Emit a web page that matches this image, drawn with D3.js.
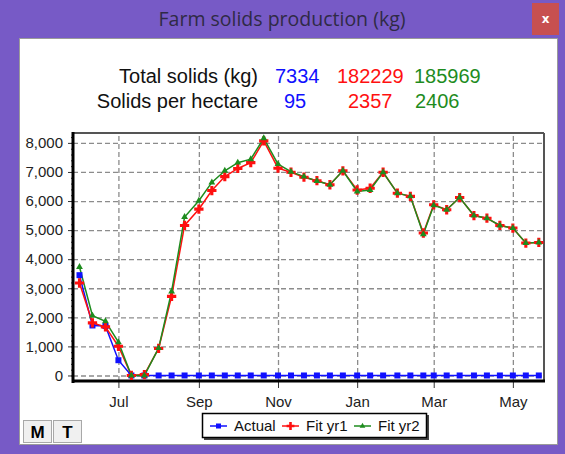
<!DOCTYPE html>
<html>
<head>
<meta charset="utf-8">
<script src="https://cdn.jsdelivr.net/npm/d3@7"></script>
<style>
  body { margin: 0; background: #fff; }
  svg { display: block; }
  .axis text { font-family: "Liberation Sans", Arial, sans-serif; font-size: 15px; fill: #222; }
  .grid line { stroke: #8c8c8c; stroke-width: 1.3; stroke-dasharray: 5,3; }
  .grid path { display: none; }
</style>
</head>
<body>
<div id="chart"></div>
<script>
// dekad sample dates (Jun -> May)
var dates = ["2014-06-01","2014-06-11","2014-06-21","2014-07-01","2014-07-11","2014-07-21",
             "2014-08-01","2014-08-11","2014-08-21","2014-09-01","2014-09-11","2014-09-21",
             "2014-10-01","2014-10-11","2014-10-21","2014-11-01","2014-11-11","2014-11-21",
             "2014-12-01","2014-12-11","2014-12-21","2015-01-01","2015-01-11","2015-01-21",
             "2015-02-01","2015-02-11","2015-02-21","2015-03-01","2015-03-11","2015-03-21",
             "2015-04-01","2015-04-11","2015-04-21","2015-05-01","2015-05-11","2015-05-21"];

var actual = [3450,1720,1700,525,0,0,0,0,0,0,0,0,0,0,0,0,0,0,0,0,0,0,0,0,0,0,0,0,0,0,0,0,0,0,0,0];
var fitYr1 = [3180,1810,1670,1006,0,30,930,2720,5160,5720,6360,6840,7120,7320,8070,7130,6990,6820,
              6700,6560,7040,6380,6440,6990,6270,6160,4900,5870,5700,6120,5500,5410,5160,5070,4555,4575];
var fitYr2 = [3730,2060,1865,1145,0,0,940,2890,5450,6010,6640,7040,7320,7440,8160,7270,7010,6840,
              6690,6560,7040,6330,6380,6990,6270,6160,4860,5850,5700,6120,5500,5410,5160,5070,4555,4575];

var seriesNames = ["Actual", "Fit yr1", "Fit yr2"];
var seriesColors = ["#1010ff", "#ff1010", "#1e8c1e"];
var totals = ["7334", "182229", "185969"];
var perHectare = ["95", "2357", "2406"];
var yTicks = [0,1000,2000,3000,4000,5000,6000,7000,8000];

var W = 565, H = 454;
var parseDate = d3.timeParse("%Y-%m-%d");

var svg = d3.select("#chart").append("svg")
    .attr("width", W)
    .attr("height", H);

//Window frame
svg.append("rect").attr("width", W).attr("height", H).attr("fill", "#775ac6");
svg.append("rect")
    .attr("x", 19.5).attr("y", 38.5)
    .attr("width", 538).attr("height", 406)
    .attr("fill", "#fff").attr("stroke", "#9a9a9a");

svg.append("text")
    .attr("x", 282).attr("y", 26)
    .attr("text-anchor", "middle")
    .style("font-family", "'Open Sans', sans-serif")
    .style("font-size", "19.5px")
    .attr("fill", "#2f2a45")
    .text("Farm solids production (kg)");

svg.append("rect")
    .attr("x", 532).attr("y", 3).attr("width", 27).attr("height", 32)
    .attr("fill", "#c75050");
svg.append("text")
    .attr("x", 545.5).attr("y", 23)
    .attr("text-anchor", "middle")
    .style("font-family", "'DejaVu Sans', sans-serif")
    .style("font-size", "12px").style("font-weight", "bold")
    .attr("fill", "#fff")
    .text("x");

//Summary header
var hdr = svg.append("g")
    .style("font-family", "'Liberation Sans', Arial, sans-serif")
    .style("font-size", "20px");

hdr.append("text").attr("x", 258).attr("y", 83).attr("text-anchor", "end")
    .attr("fill", "#111").text("Total solids (kg)");
hdr.append("text").attr("x", 258).attr("y", 108).attr("text-anchor", "end")
    .attr("fill", "#111").text("Solids per hectare");

var totalX = [275, 337, 414];
var perHaX = [284, 348, 415];
totals.forEach(function(t, i) {
    hdr.append("text").attr("x", totalX[i]).attr("y", 83)
        .attr("fill", seriesColors[i]).text(t);
});
perHectare.forEach(function(t, i) {
    hdr.append("text").attr("x", perHaX[i]).attr("y", 108)
        .attr("fill", seriesColors[i]).text(t);
});

//Scales
var pLeft = 73, pRight = 544, pTop = 133, pBottom = 381;

var x = d3.scaleTime()
    .domain([parseDate("2014-05-27"), parseDate("2015-05-25")])
    .range([pLeft, pRight]);
var y = d3.scaleLinear()
    .domain([-190, 8340])
    .range([pBottom, pTop]);

//Gridlines
svg.append("g")
    .attr("class", "grid")
    .attr("transform", "translate(" + pLeft + ",0)")
    .call(d3.axisLeft(y).tickValues(yTicks).tickSize(-(pRight - pLeft)).tickFormat(""));

svg.append("g")
    .attr("class", "grid")
    .attr("transform", "translate(0," + pBottom + ")")
    .call(d3.axisBottom(x).ticks(d3.timeMonth.every(2)).tickSize(-(pBottom - pTop)).tickFormat(""));

//Frame: top and right thin, left and bottom heavy
svg.append("line").attr("x1", pLeft).attr("x2", pRight).attr("y1", pTop).attr("y2", pTop)
    .attr("stroke", "#555").attr("stroke-width", 2);
svg.append("line").attr("x1", pRight).attr("x2", pRight).attr("y1", pTop).attr("y2", pBottom)
    .attr("stroke", "#555").attr("stroke-width", 2);

//Axes
var yAxis = svg.append("g")
    .attr("class", "axis")
    .attr("transform", "translate(" + pLeft + ",0)")
    .call(d3.axisLeft(y).tickValues(yTicks).tickSize(5).tickPadding(5).tickFormat(d3.format(",")));
yAxis.select(".domain").remove();
yAxis.selectAll("line").attr("stroke", "#333");

var yMinor = svg.append("g")
    .attr("transform", "translate(" + pLeft + ",0)")
    .call(d3.axisLeft(y).ticks(34).tickSize(2).tickFormat(""));
yMinor.select(".domain").remove();
yMinor.selectAll("line").attr("stroke", "#333");

var xAxis = svg.append("g")
    .attr("class", "axis")
    .attr("transform", "translate(0," + pBottom + ")")
    .call(d3.axisBottom(x).ticks(d3.timeMonth.every(2)).tickSize(7).tickPadding(8).tickFormat(d3.timeFormat("%b")));
xAxis.select(".domain").remove();
xAxis.selectAll("line").attr("stroke", "#333");

svg.append("line").attr("x1", pLeft).attr("x2", pLeft).attr("y1", pTop - 1).attr("y2", pBottom + 2)
    .attr("stroke", "#000").attr("stroke-width", 3);
svg.append("line").attr("x1", pLeft).attr("x2", pRight + 1).attr("y1", pBottom).attr("y2", pBottom)
    .attr("stroke", "#000").attr("stroke-width", 3);

//Series
var allSeries = [actual, fitYr1, fitYr2];
var symbols = [d3.symbolSquare, d3.symbolCross, d3.symbolTriangle];
var symbolSizes = [36, 48, 20];

var line = d3.line()
    .x(function(d) { return x(parseDate(d.date)); })
    .y(function(d) { return y(d.value); });

var rows = allSeries.map(function(s) {
    return s.map(function(v, i) { return {date: dates[i], value: v}; });
});

rows.forEach(function(r, i) {
    svg.append("path")
        .datum(r)
        .attr("fill", "none")
        .attr("stroke", seriesColors[i])
        .attr("stroke-width", 1.5)
        .attr("d", line);
});

rows.forEach(function(r, i) {
    svg.append("g").selectAll("path")
        .data(r)
        .enter().append("path")
        .attr("transform", function(d) { return "translate(" + x(parseDate(d.date)) + "," + y(d.value) + ")"; })
        .attr("d", d3.symbol().type(symbols[i]).size(symbolSizes[i]))
        .attr("fill", seriesColors[i]);
});

//Legend
var legend = svg.append("g")
    .style("font-family", "'Liberation Sans', Arial, sans-serif")
    .style("font-size", "15px");
legend.append("rect")
    .attr("x", 204).attr("y", 415).attr("width", 225).attr("height", 25)
    .attr("fill", "#444");
legend.append("rect")
    .attr("x", 202.5).attr("y", 413.5).attr("width", 224).attr("height", 24)
    .attr("fill", "#fff").attr("stroke", "#000").attr("stroke-width", 1.5);

var legendX = [210, 282, 354];
seriesNames.forEach(function(n, i) {
    var g = legend.append("g").attr("transform", "translate(" + legendX[i] + ",426)");
    g.append("line").attr("x1", 0).attr("x2", 17).attr("stroke", seriesColors[i]).attr("stroke-width", 1.5);
    g.append("path").attr("transform", "translate(8.5,0)")
        .attr("d", d3.symbol().type(symbols[i]).size(symbolSizes[i] * 0.7))
        .attr("fill", seriesColors[i]);
    g.append("text").attr("x", 24).attr("y", 5).attr("fill", "#111").text(n);
});

//M / T buttons
var btnX = [23, 53];
["M", "T"].forEach(function(b, i) {
    svg.append("rect")
        .attr("x", btnX[i] + 0.5).attr("y", 420.5).attr("width", 28).attr("height", 22)
        .attr("fill", "#f0f0f0").attr("stroke", "#a8a8a8");
    svg.append("text")
        .attr("x", btnX[i] + 14.5).attr("y", 438)
        .attr("text-anchor", "middle")
        .style("font-family", "'Liberation Sans', Arial, sans-serif")
        .style("font-size", "17px").style("font-weight", "bold")
        .attr("fill", "#000")
        .text(b);
});
</script>
</body>
</html>
